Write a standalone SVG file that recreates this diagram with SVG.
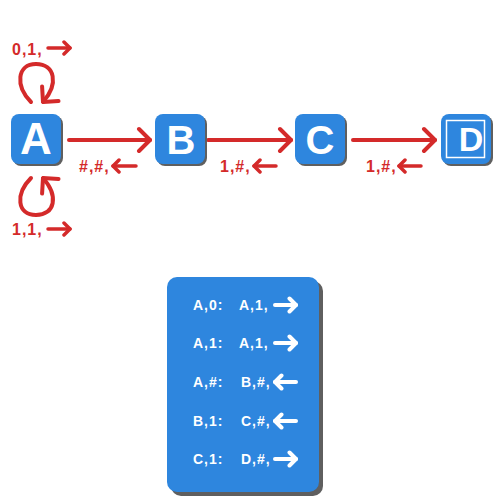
<svg xmlns="http://www.w3.org/2000/svg" width="500" height="500" viewBox="0 0 500 500">
<style>
.box{fill:#2e86de}
.shadow{fill:#5f5f5f}
.letter{font-family:"Liberation Sans",Arial,sans-serif;font-weight:bold;fill:#fff;text-anchor:middle}
.edge{fill:none;stroke:#d42a2a;stroke-width:4;stroke-linecap:round}
.lbl{font-family:"Liberation Sans",Arial,sans-serif;font-weight:bold;font-size:16px;fill:#d42a2a;letter-spacing:1px}
.larr{fill:none;stroke:#d42a2a;stroke-width:3.5;stroke-linecap:round}
.tt{font-family:"Liberation Sans",Arial,sans-serif;font-weight:bold;font-size:14px;fill:#fff;letter-spacing:1px}
.tarr{fill:none;stroke:#fff;stroke-width:4;stroke-linecap:round}
</style>
<defs>
<marker id="ah" markerUnits="userSpaceOnUse" viewBox="-14 -14 16 28" refX="0" refY="0" markerWidth="16" markerHeight="28" orient="auto">
<path d="M-11,-11 L0,0 L-11,11" fill="none" stroke="#d42a2a" stroke-width="4" stroke-linecap="round" stroke-linejoin="round"/>
</marker>
<marker id="ahs" markerUnits="userSpaceOnUse" viewBox="-10 -10 12 20" refX="0" refY="0" markerWidth="12" markerHeight="20" orient="auto">
<path d="M-6,-6 L0,0 L-6,6" fill="none" stroke="#d42a2a" stroke-width="3.5" stroke-linecap="round" stroke-linejoin="round"/>
</marker>
<marker id="ahw" markerUnits="userSpaceOnUse" viewBox="-10 -10 12 20" refX="0" refY="0" markerWidth="12" markerHeight="20" orient="auto">
<path d="M-6.5,-6.5 L0,0 L-6.5,6.5" fill="none" stroke="#fff" stroke-width="4" stroke-linecap="round" stroke-linejoin="round"/>
</marker>
</defs>
<rect width="500" height="500" fill="#fff"/>
<g id="connectors">
<path class="edge" d="M31,102 C15,86 17,64 36,64 C55,64 59,84 43,102" marker-end="url(#ah)"/>
<path class="edge" d="M31,178 C15,194 17,215 36,215 C55,215 59,196 43,178" marker-end="url(#ah)"/>
<line class="edge" x1="69" y1="140" x2="150" y2="140" marker-end="url(#ah)"/>
<line class="edge" x1="208" y1="140" x2="291" y2="140" marker-end="url(#ah)"/>
<line class="edge" x1="353" y1="140" x2="435" y2="140" marker-end="url(#ah)"/>
</g>
<g id="labels">
<text class="lbl" x="12" y="55">0,1,</text>
<line class="larr" x1="48" y1="48" x2="70" y2="48" marker-end="url(#ahs)"/>
<text class="lbl" x="12" y="235">1,1,</text>
<line class="larr" x1="48" y1="229" x2="70" y2="229" marker-end="url(#ahs)"/>
<text class="lbl" x="79" y="172">#,#,</text>
<line class="larr" x1="136" y1="166" x2="113" y2="166" marker-end="url(#ahs)"/>
<text class="lbl" x="220" y="172">1,#,</text>
<line class="larr" x1="276" y1="166" x2="254" y2="166" marker-end="url(#ahs)"/>
<text class="lbl" x="366" y="172">1,#,</text>
<line class="larr" x1="421" y1="166" x2="399" y2="166" marker-end="url(#ahs)"/>
</g>
<g id="node-A">
<rect class="shadow" x="13" y="116" width="50" height="50" rx="8"/>
<rect class="box" x="11" y="114" width="50" height="50" rx="8"/>
<text class="letter" x="36" y="154" font-size="44">A</text>
</g>
<g id="node-B">
<rect class="shadow" x="157" y="116" width="50" height="50" rx="8"/>
<rect class="box" x="155" y="114" width="50" height="50" rx="8"/>
<text class="letter" x="181" y="154" font-size="40">B</text>
</g>
<g id="node-C">
<rect class="shadow" x="297" y="116" width="50" height="50" rx="8"/>
<rect class="box" x="295" y="114" width="50" height="50" rx="8"/>
<text class="letter" x="320" y="154" font-size="40">C</text>
</g>
<g id="node-D">
<rect class="shadow" x="443" y="116" width="50" height="50" rx="8"/>
<rect class="box" x="441" y="114" width="50" height="50" rx="8"/>
<rect x="446.5" y="120.5" width="38" height="37" fill="none" stroke="#fff" stroke-width="1.5"/>
<text class="letter" x="471" y="151" font-size="34">D</text>
</g>
<g id="table">
<rect class="shadow" x="171" y="281" width="152" height="215" rx="10"/>
<rect class="box" x="167" y="277" width="152" height="215" rx="10"/>
<text class="tt" x="193" y="310">A,0:</text><text class="tt" x="239" y="310">A,1,</text>
<line class="tarr" x1="275" y1="305" x2="296" y2="305" marker-end="url(#ahw)"/>
<text class="tt" x="193" y="348">A,1:</text><text class="tt" x="239" y="348">A,1,</text>
<line class="tarr" x1="275" y1="343" x2="296" y2="343" marker-end="url(#ahw)"/>
<text class="tt" x="193" y="387">A,#:</text><text class="tt" x="241" y="387">B,#,</text>
<line class="tarr" x1="296" y1="382" x2="275" y2="382" marker-end="url(#ahw)"/>
<text class="tt" x="193" y="426">B,1:</text><text class="tt" x="241" y="426">C,#,</text>
<line class="tarr" x1="296" y1="421" x2="275" y2="421" marker-end="url(#ahw)"/>
<text class="tt" x="193" y="464">C,1:</text><text class="tt" x="241" y="464">D,#,</text>
<line class="tarr" x1="275" y1="459" x2="296" y2="459" marker-end="url(#ahw)"/>
</g>
</svg>
